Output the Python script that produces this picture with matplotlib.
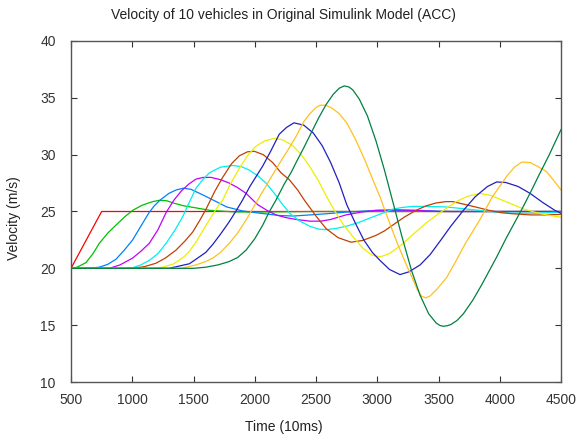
import matplotlib
matplotlib.use("Agg")
import matplotlib.pyplot as plt

plt.rcParams['font.family'] = ['Liberation Sans', 'DejaVu Sans']

title = "Velocity of 10 vehicles in Original Simulink Model (ACC)"
xlabel = "Time (10ms)"
ylabel = "Velocity (m/s)"
xticks = [500, 1000, 1500, 2000, 2500, 3000, 3500, 4000, 4500]
yticks = [10, 15, 20, 25, 30, 35, 40]

colors = ['#ff0000', '#00c000', '#0080ff', '#c000ff', '#00eeee',
          '#c04000', '#eeee00', '#2020c0', '#ffc020', '#008040']

t1 = [500, 750, 4500]
v1 = [20, 25, 25]

t2 = [500, 550, 622, 680, 731, 800, 867, 935, 1003, 1080, 1167, 1220, 1280, 1335, 1420, 1530, 1635, 1822, 2000, 2500, 4500]
v2 = [20, 20.1, 20.5, 21.3, 22.2, 23.1, 23.8, 24.5, 25.1, 25.55, 25.87, 25.98, 25.95, 25.75, 25.5, 25.3, 25.1, 24.97, 24.95, 25.0, 25.0]

t3 = [500, 650, 730, 800, 867, 935, 1003, 1070, 1137, 1180, 1227, 1300, 1360, 1417, 1480, 1578, 1680, 1771, 1900, 2043, 2200, 2314, 2450, 2582, 2750, 3000, 3300, 3600, 4500]
v3 = [20, 20.0, 20.1, 20.35, 20.8, 21.6, 22.5, 23.7, 24.9, 25.5, 26.0, 26.6, 26.9, 27.05, 26.95, 26.45, 25.9, 25.4, 25.05, 24.85, 24.65, 24.6, 24.7, 24.8, 24.95, 25.1, 25.1, 25.0, 25.0]

t4 = [500, 750, 813, 900, 1003, 1070, 1139, 1210, 1276, 1340, 1400, 1460, 1520, 1580, 1643, 1720, 1792, 1860, 1929, 2024, 2100, 2173, 2260, 2337, 2450, 2540, 2620, 2745, 2870, 2990, 3150, 3300, 3500, 4500]
v4 = [20, 20, 20.0, 20.3, 20.9, 21.5, 22.2, 23.4, 24.9, 26.0, 26.8, 27.4, 27.85, 28.0, 28.0, 27.8, 27.5, 27.1, 26.6, 25.6, 25.1, 24.7, 24.45, 24.3, 24.15, 24.15, 24.3, 24.7, 24.95, 25.1, 25.15, 25.1, 25.0, 25.0]

t5 = [500, 880, 1003, 1070, 1139, 1210, 1276, 1345, 1412, 1470, 1520, 1580, 1629, 1720, 1820, 1890, 1955, 2030, 2092, 2160, 2228, 2290, 2360, 2450, 2520, 2582, 2660, 2745, 2840, 2935, 3030, 3126, 3200, 3289, 3400, 3561, 3700, 3833, 3970, 4106, 4300, 4500]
v5 = [20, 20, 20.05, 20.3, 20.7, 21.3, 22.2, 23.3, 24.55, 25.9, 27.05, 27.85, 28.4, 28.9, 29.05, 28.95, 28.65, 28.1, 27.5, 26.6, 25.6, 24.8, 24.2, 23.7, 23.45, 23.4, 23.5, 23.7, 24.0, 24.4, 24.8, 25.2, 25.35, 25.45, 25.45, 25.4, 25.25, 25.1, 24.95, 24.85, 24.85, 24.95]

t6 = [500, 1000, 1100, 1194, 1270, 1357, 1430, 1494, 1550, 1602, 1670, 1738, 1810, 1874, 1940, 1996, 2070, 2147, 2215, 2282, 2350, 2405, 2500, 2582, 2680, 2786, 2880, 2990, 3060, 3126, 3220, 3316, 3400, 3480, 3560, 3616, 3724, 3820, 3912, 4010, 4106, 4250, 4378, 4500]
v6 = [20, 20, 20.15, 20.45, 20.9, 21.6, 22.4, 23.2, 24.2, 25.2, 26.7, 28.0, 29.2, 29.9, 30.25, 30.3, 30.0, 29.3, 28.4, 27.8, 26.9, 26.0, 24.6, 23.5, 22.7, 22.3, 22.45, 22.9, 23.3, 23.8, 24.5, 25.1, 25.5, 25.75, 25.87, 25.87, 25.6, 25.35, 25.1, 24.9, 24.8, 24.7, 24.7, 24.75]

t7 = [500, 1150, 1250, 1340, 1420, 1466, 1520, 1575, 1629, 1690, 1738, 1800, 1874, 1940, 2010, 2080, 2160, 2230, 2310, 2380, 2446, 2520, 2582, 2650, 2720, 2800, 2880, 2950, 3022, 3100, 3190, 3294, 3400, 3500, 3567, 3650, 3740, 3839, 3930, 4020, 4111, 4200, 4300, 4383, 4500]
v7 = [20, 20.0, 20.1, 20.4, 21.0, 21.5, 22.3, 23.3, 24.25, 25.3, 26.0, 27.4, 28.8, 29.9, 30.75, 31.2, 31.44, 31.3, 30.8, 30.0, 29.0, 27.7, 26.4, 25.1, 23.9, 22.8, 21.8, 21.2, 21.0, 21.3, 22.0, 23.0, 24.0, 24.8, 25.3, 25.9, 26.35, 26.6, 26.4, 26.0, 25.6, 25.2, 24.9, 24.7, 24.5]

t8 = [500, 1300, 1466, 1520, 1600, 1657, 1720, 1792, 1850, 1900, 1960, 2030, 2065, 2130, 2200, 2260, 2320, 2400, 2478, 2550, 2620, 2690, 2751, 2820, 2890, 2960, 3022, 3100, 3186, 3260, 3350, 3431, 3520, 3600, 3703, 3800, 3900, 3975, 4050, 4150, 4247, 4350, 4450, 4500]
v8 = [20, 20, 20.4, 20.8, 21.4, 22.1, 23.0, 24.1, 25.1, 26.0, 27.2, 28.4, 29.0, 30.3, 31.8, 32.4, 32.8, 32.6, 31.9, 30.8, 29.3, 27.5, 25.6, 24.0, 22.5, 21.4, 20.7, 19.9, 19.45, 19.7, 20.3, 21.2, 22.5, 23.7, 25.1, 26.3, 27.2, 27.6, 27.55, 27.2, 26.6, 25.8, 25.1, 24.85]

t9 = [500, 1400, 1520, 1600, 1657, 1720, 1792, 1860, 1929, 1980, 2024, 2100, 2200, 2270, 2337, 2400, 2450, 2500, 2533, 2580, 2630, 2690, 2751, 2820, 2900, 2960, 3022, 3090, 3160, 3230, 3294, 3330, 3362, 3395, 3430, 3490, 3567, 3640, 3720, 3839, 3940, 4057, 4120, 4180, 4250, 4320, 4383, 4450, 4500]
v9 = [20, 20, 20.3, 20.6, 20.9, 21.4, 22.2, 23.1, 24.25, 25.2, 26.0, 27.4, 29.2, 30.4, 31.6, 32.9, 33.6, 34.15, 34.35, 34.35, 34.1, 33.6, 32.8, 31.4, 29.5, 27.9, 26.3, 24.3, 22.3, 20.5, 18.95, 18.05, 17.55, 17.4, 17.55, 18.2, 19.2, 20.6, 22.2, 24.3, 26.3, 28.1, 28.9, 29.35, 29.3, 28.9, 28.5, 27.6, 26.9]

t10 = [500, 1500, 1600, 1700, 1792, 1860, 1929, 2000, 2065, 2120, 2173, 2240, 2300, 2337, 2400, 2460, 2520, 2582, 2640, 2690, 2731, 2770, 2800, 2853, 2920, 2990, 3060, 3126, 3200, 3280, 3349, 3420, 3480, 3510, 3539, 3570, 3600, 3650, 3703, 3780, 3850, 3920, 3975, 4050, 4120, 4200, 4247, 4320, 4400, 4500]
v10 = [20, 20.0, 20.1, 20.3, 20.6, 20.95, 21.6, 22.6, 23.8, 25.0, 26.0, 27.4, 28.5, 29.3, 30.6, 31.9, 33.2, 34.4, 35.3, 35.85, 36.05, 35.95, 35.7, 34.9, 33.4, 31.2, 28.6, 25.9, 22.85, 19.8, 17.65, 16.0, 15.2, 14.98, 14.9, 14.95, 15.05, 15.4, 16.0, 17.2, 18.5, 19.9, 21.0, 22.6, 24.0, 25.6, 26.6, 28.2, 29.9, 32.2]

series_t = [t1, t2, t3, t4, t5, t6, t7, t8, t9, t10]
series_v = [v1, v2, v3, v4, v5, v6, v7, v8, v9, v10]

W, H = 577, 440
fig = plt.figure(figsize=(W / 100, H / 100), dpi=100)
ax = fig.add_axes([71 / W, 1 - 382 / H, (561 - 71) / W, (382 - 41) / H])

for t, v, c in zip(series_t, series_v, colors):
    ax.plot(t, v, color=c, lw=0.9, solid_joinstyle='round')

ax.set_xlim(500, 4500)
ax.set_ylim(10, 40)
ax.set_xticks(xticks)
ax.set_yticks(yticks)
ax.tick_params(direction='in', length=4, width=0.8, top=True, right=True,
               labelsize=10, colors='#333333')
ax.tick_params(axis='x', pad=8)
ax.tick_params(axis='y', pad=11)
for s in ax.spines.values():
    s.set_color('#555555')
    s.set_linewidth(1.0)

fig.text(283 / W, 1 - 15 / H, title, fontsize=10, color='#222222',
         ha='center', va='center')
fig.text(284 / W, 1 - 427 / H, xlabel, fontsize=10, color='#222222',
         ha='center', va='center')
fig.text(14 / W, 1 - 218 / H, ylabel, fontsize=10, color='#222222',
         ha='center', va='center', rotation=90)

fig.savefig("out.png", dpi=100, facecolor='white')
